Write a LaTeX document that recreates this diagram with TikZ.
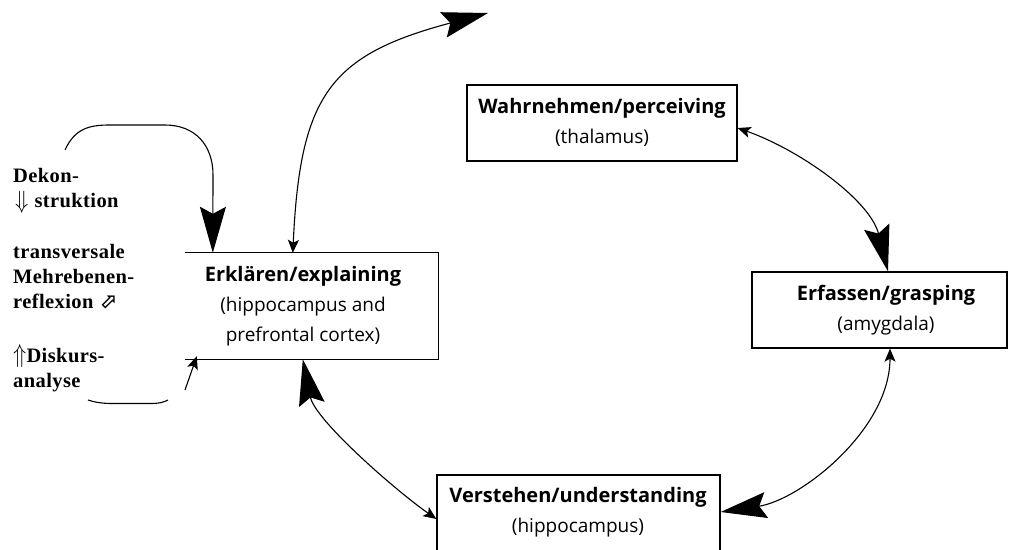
\documentclass[tikz,border=0pt]{standalone}
\usepackage{fontspec}
\setmainfont{Liberation Serif}
\newfontfamily\boxfont{Open Sans}
\newfontfamily\symfont{DejaVu Sans}
\usetikzlibrary{arrows.meta}
\tikzset{
  smalltip/.tip={Stealth[length=13pt,width=11pt,inset=3pt]},
  bigtip/.tip={Stealth[length=46pt,width=26pt,inset=7pt]},
}
\newcommand{\bigdown}{\smash{\raisebox{-1.5pt}{\scalebox{1.05}[1.2]{$\Downarrow$}}}}
\newcommand{\bigup}{\smash{\scalebox{1.05}[1.25]{$\Uparrow$}}}
\begin{document}
\begin{tikzpicture}[x=1pt,y=-1pt,
  boxshape/.style={draw, line width=1.3pt, inner sep=0pt},
  nobox/.style={inner sep=0pt},
  btext/.style={inner sep=0pt, align=center, font=\boxfont\fontsize{19}{30}\selectfont},
  ltext/.style={inner sep=0pt, anchor=base west, align=left, font=\bfseries\fontsize{20.5}{25}\selectfont\addfontfeature{LetterSpace=2}},
  conn/.style={line width=1.1pt},
]
\useasboundingbox (0,0) rectangle (1011,549);
\clip (0,0) rectangle (1011,549);
\fill[white] (0,0) rectangle (1011,549);

% boxes
\node[boxshape, minimum width=270pt, minimum height=76pt] (wahr) at (602,123) {};
\node[boxshape, minimum width=255pt, minimum height=76pt] (erf) at (879.5,310) {};
\node[boxshape, minimum width=283pt, minimum height=76pt] (vers) at (578.5,513) {};
\node[nobox, minimum width=253pt, minimum height=106pt] (erk) at (311.5,306) {};
\draw[line width=1.3pt] (erk.north west) -- (erk.north east) -- (erk.south east) -- (erk.south west);

% box texts
\node[btext] (wahrT) at (602,122) {{\fontsize{20}{30}\selectfont\bfseries Wahrnehmen/perceiving}\\(thalamus)};
\node[btext] (erfT) at (886,310) {{\fontsize{20}{30}\selectfont\bfseries Erfassen/grasping}\\(amygdala)};
\node[btext] (versT) at (578,512) {{\fontsize{20}{30}\selectfont\bfseries Verstehen/understanding}\\(hippocampus)};
\node[btext] (erkT) at (303,306) {{\fontsize{20}{30}\selectfont\bfseries Erklären/explaining}\\(hippocampus and\\prefrontal cortex)};

% left texts
\node[ltext] (t1) at (13,207) {Dekon-\\\hspace*{2pt}\bigdown\hspace*{6pt}struktion};
\node[ltext] (t2) at (13,308) {transversale\\Mehrebenen-\\reflexion {\symfont\fontsize{21}{21}\selectfont ⬀}};
\node[ltext] (t3) at (13,387) {\bigup Diskurs-\\analyse};

% free ends
\coordinate (topend) at (488,13);
\coordinate (loopstart) at (65,150);
\coordinate (smalltail) at (185,390);
\coordinate (lineL) at (88,400);
\coordinate (lineR) at (168,400);

% connectors
\draw[conn, arrows={smalltip-bigtip}] ([yshift=-5pt]wahr.east) .. controls (800,150) and (870,200) .. ([xshift=8.5pt]erf.north);
\draw[conn, arrows={smalltip-bigtip}] ([xshift=10.5pt]erf.south) .. controls (890,430) and (800,500) .. ([yshift=1pt]vers.east);
\draw[conn, arrows={smalltip-bigtip}] ([yshift=-6pt]vers.west) .. controls (395,490) and (315,420) .. ([xshift=118pt]erk.south west);
\draw[conn, arrows={smalltip-bigtip}] ([xshift=108pt]erk.north west) .. controls (300,95) and (330,55) .. (topend);
\draw[conn, arrows={-bigtip}] (loopstart) .. controls (75,128) and (90,125) .. (110,125) -- (165,125) .. controls (195,125) and (213,145) .. (213,175) -- ([xshift=28pt]erk.north west);
\draw[conn, arrows={-smalltip}] (smalltail) -- ([xshift=12pt,yshift=3pt]erk.south west);
\draw[conn] (lineL) .. controls (100,404) and (110,403.5) .. (120,403.5) -- (150,403.5) .. controls (160,403.5) and (164,402) .. (lineR);
\end{tikzpicture}
\end{document}
